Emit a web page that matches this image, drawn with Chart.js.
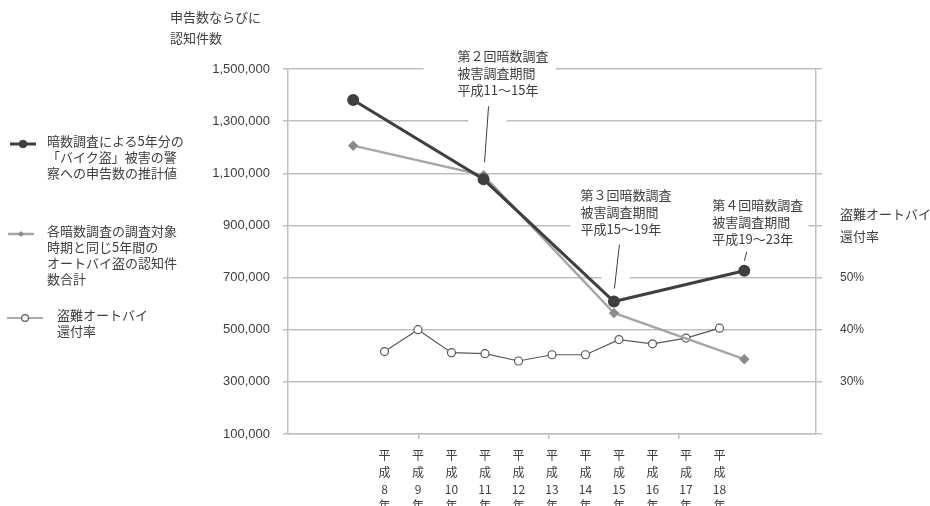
<!DOCTYPE html>
<html lang="ja">
<head>
<meta charset="utf-8">
<title>オートバイ盗の申告数・認知件数と還付率</title>
<script src="https://cdn.jsdelivr.net/npm/chart.js@4.4.1/dist/chart.umd.min.js"></script>
<style>
  body { margin: 0; background: #fff; }
  #wrap { position: relative; width: 930px; height: 506px; overflow: hidden;
          font-family: "Noto Sans CJK JP", sans-serif; color: #404040; }
  #chart { position: absolute; left: 0; top: 0; }
  .txt { position: absolute; font-size: 13px; line-height: 16px; white-space: nowrap; }
  .icon { position: absolute; }
</style>
</head>
<body>
<div id="wrap">
  <canvas id="chart" width="930" height="506"></canvas>
  <div id="legend"></div>
</div>
<script>
// 暗数調査の年（5年分の期間の起点）と各系列の値
const surveyYears = [7, 11, 15, 19];
const estimateCounts = [1381000, 1077000, 608000, 726000];   // 申告数の推計値
const recognizedCounts = [1206000, 1092000, 564000, 387000]; // 認知件数合計

// 盗難オートバイ還付率（%）
const rateYears = [8, 9, 10, 11, 12, 13, 14, 15, 16, 17, 18];
const returnRates = [35.8, 40.0, 35.6, 35.4, 34.0, 35.2, 35.2, 38.1, 37.3, 38.4, 40.3];

// 軸の目盛
const countTicks = [100000, 300000, 500000, 700000, 900000, 1100000, 1300000, 1500000];
const rateTicks = [20, 30, 40, 50, 60, 70, 80, 90];
const rateTickLabels = { 30: '30%', 40: '40%', 50: '50%', 60: ['盗難オートバイ', '還付率'] };
const periodTicks = [9, 13, 17];
const countAxisTitle = ['申告数ならびに', '認知件数'];

// 凡例の文言（行ごと）
const seriesNames = [
  ['暗数調査による5年分の', '「バイク盗」被害の警', '察への申告数の推計値'],
  ['各暗数調査の調査対象', '時期と同じ5年間の', 'オートバイ盗の認知件', '数合計'],
  ['盗難オートバイ', '還付率']
];

// 吹き出し
const callouts = [
  { year: 11, lines: ['第２回暗数調査', '被害調査期間', '平成11～15年'] },
  { year: 15, lines: ['第３回暗数調査', '被害調査期間', '平成15～19年'] },
  { year: 19, lines: ['第４回暗数調査', '被害調査期間', '平成19～23年'] }
];

const GRID = '#c0c0c0';
const TEXT = '#404040';

const calloutPlugin = {
  id: 'callouts',
  beforeDatasetsDraw(chart, args, opts) {
    const ctx = chart.ctx;
    const xs = chart.scales.x2, ys = chart.scales.y;
    ctx.save();
    ctx.font = '13px "Noto Sans CJK JP"';
    callouts.forEach((c, i) => {
      const st = opts.items[i];
      const px = xs.getPixelForValue(c.year);
      const py = ys.getPixelForValue(estimateCounts[surveyYears.indexOf(c.year)]);
      const left = px + st.dx, top = py + st.dy;
      const w = Math.max(...c.lines.map(l => ctx.measureText(l).width));
      const lh = opts.lineHeight;

      // 文字の下地
      ctx.fillStyle = '#fff';
      ctx.fillRect(left - st.padL, top - 12, w + st.padL + st.padR, (c.lines.length - 1) * lh + 24);

      // 引き出し線（下地つき）
      const [x0, y0, x1, y1] = [px + st.lead[0], py + st.lead[1], px + st.lead[2], py + st.lead[3]];
      ctx.lineCap = 'butt';
      ctx.strokeStyle = '#fff';
      ctx.lineWidth = st.halo;
      ctx.beginPath(); ctx.moveTo(x0, y0); ctx.lineTo(x1, y1); ctx.stroke();
      ctx.strokeStyle = TEXT;
      ctx.lineWidth = 1;
      ctx.beginPath(); ctx.moveTo(x0, y0); ctx.lineTo(x1, y1); ctx.stroke();

      ctx.fillStyle = TEXT;
      ctx.textBaseline = 'middle';
      ctx.textAlign = 'left';
      c.lines.forEach((l, k) => ctx.fillText(l, left, top + k * lh));
    });
    ctx.restore();
  }
};

const chart = new Chart(document.getElementById('chart'), {
  type: 'line',
  data: {
    datasets: [{
      label: seriesNames[0].join(''),
      data: surveyYears.map((y, i) => ({ x: y, y: estimateCounts[i] })),
      xAxisID: 'x2', yAxisID: 'y',
      borderColor: '#3f3f3f', backgroundColor: '#3f3f3f',
      borderWidth: 3, pointStyle: 'circle', pointRadius: 4.5,
      tension: 0
    }, {
      label: seriesNames[1].join(''),
      data: surveyYears.map((y, i) => ({ x: y, y: recognizedCounts[i] })),
      xAxisID: 'x2', yAxisID: 'y',
      borderColor: '#a6a6a6', backgroundColor: '#8c8c8c',
      borderWidth: 2.5, pointStyle: 'rectRot', pointRadius: 3.5,
      pointBorderColor: '#8c8c8c', tension: 0
    }, {
      label: seriesNames[2].join(''),
      data: rateYears.map((y, i) => ({ x: y, y: returnRates[i] })),
      xAxisID: 'x', yAxisID: 'y2',
      borderColor: '#595959', backgroundColor: '#fff',
      borderWidth: 1.2, pointStyle: 'circle', pointRadius: 4,
      pointBorderColor: '#595959', pointBorderWidth: 1.2, tension: 0
    }]
  },
  options: {
    responsive: false,
    animation: false,
    layout: { padding: { top: 69, left: 0, right: 0, bottom: 0 } },
    plugins: {
      legend: { display: false },
      tooltip: { enabled: false },
      callouts: {
        lineHeight: 17,
        items: [
          { dx: -26, dy: -123, padL: 34, padR: 7, lead: [5, -73, 1, -17], halo: 38 },
          { dx: -33.5, dy: -106, padL: 10, padR: 40, lead: [5.5, -57, 0.5, -13], halo: 28 },
          { dx: -32, dy: -66, padL: 12, padR: 5, lead: [2.5, -19, 0, -10], halo: 6 }
        ]
      }
    },
    scales: {
      x2: {
        type: 'linear', position: 'bottom', weight: 0,
        min: 5, max: 21.2,
        afterBuildTicks: s => { s.ticks = periodTicks.map(v => ({ value: v })); },
        afterFit: s => { s.height = 0; },
        ticks: { display: false },
        grid: { drawOnChartArea: false, color: GRID, tickLength: 5, lineWidth: 1.5 },
        border: { display: true, color: GRID, width: 1.5 }
      },
      x: {
        type: 'linear', position: 'bottom', weight: 1,
        min: 5.119, max: 20.881,
        afterBuildTicks: s => { s.ticks = rateYears.map(v => ({ value: v })); },
        afterFit: s => { s.height = 72; },
        ticks: {
          autoSkip: false, maxRotation: 0, padding: 5,
          color: TEXT,
          font: { family: '"Noto Sans CJK JP"', size: 12, lineHeight: 1.4 },
          callback: v => ['平', '成', String(v), '年']
        },
        grid: { display: false },
        border: { display: false }
      },
      y: {
        position: 'left',
        min: 100000, max: 1500000,
        afterBuildTicks: s => { s.ticks = countTicks.map(v => ({ value: v })); },
        afterFit: s => { s.width = 288; },
        ticks: {
          padding: 13, color: TEXT,
          font: { family: '"Liberation Sans", Arial, sans-serif', size: 13 },
          callback: v => v.toLocaleString('en-US')
        },
        grid: { color: GRID, lineWidth: 1.5, tickLength: 5 },
        border: { display: true, color: GRID, width: 1.5 }
      },
      y2: {
        position: 'right',
        min: 20, max: 90,
        afterBuildTicks: s => { s.ticks = rateTicks.map(v => ({ value: v })); },
        afterFit: s => { s.width = 114; },
        ticks: {
          padding: 18, color: TEXT,
          font: ctx => ctx.tick && ctx.tick.value === 60
            ? { family: '"Noto Sans CJK JP"', size: 13, lineHeight: 1.7 }
            : { family: '"Liberation Sans", Arial, sans-serif', size: 12 },
          callback: v => rateTickLabels[v] || ''
        },
        grid: { drawOnChartArea: false, color: GRID, lineWidth: 1.5, tickLength: 6 },
        border: { display: true, color: GRID, width: 1.5 }
      }
    }
  },
  plugins: [calloutPlugin]
});

// 縦軸の見出し
const title = document.createElement('div');
title.className = 'txt';
title.style.left = '170px';
title.style.top = '6px';
title.style.lineHeight = '21px';
title.innerHTML = countAxisTitle.join('<br>');
document.getElementById('wrap').appendChild(title);

// 凡例（系列の線と点の設定から描く）
const legendSpots = [
  { y: 141, iconL: 10, iconR: 36, textL: 47 },
  { y: 231, iconL: 8, iconR: 34, textL: 47 },
  { y: 315, iconL: 7, iconR: 43, textL: 57 }
];
const legend = document.getElementById('legend');
chart.data.datasets.forEach((ds, i) => {
  const sp = legendSpots[i];
  const w = sp.iconR - sp.iconL, cx = w / 2, r = ds.pointRadius * 0.85;
  const fill = ds.backgroundColor, stroke = ds.pointBorderColor || ds.borderColor;
  let mark;
  if (ds.pointStyle === 'rectRot') {
    mark = `<polygon points="${cx},${8 - r} ${cx + r},8 ${cx},${8 + r} ${cx - r},8" fill="${fill}"/>`;
  } else {
    mark = `<circle cx="${cx}" cy="8" r="${r}" fill="${fill}" stroke="${stroke}" stroke-width="${ds.pointBorderWidth || 1}"/>`;
  }
  const icon = document.createElement('div');
  icon.className = 'icon';
  icon.style.left = sp.iconL + 'px';
  icon.style.top = (sp.y - 8) + 'px';
  icon.innerHTML = `<svg width="${w}" height="16"><line x1="0" y1="8" x2="${w}" y2="8" stroke="${ds.borderColor}" stroke-width="${ds.borderWidth}"/>${mark}</svg>`;
  legend.appendChild(icon);

  const t = document.createElement('div');
  t.className = 'txt';
  t.style.left = sp.textL + 'px';
  t.style.top = (sp.y - 8) + 'px';
  t.innerHTML = seriesNames[i].join('<br>');
  legend.appendChild(t);
});
</script>
</body>
</html>
